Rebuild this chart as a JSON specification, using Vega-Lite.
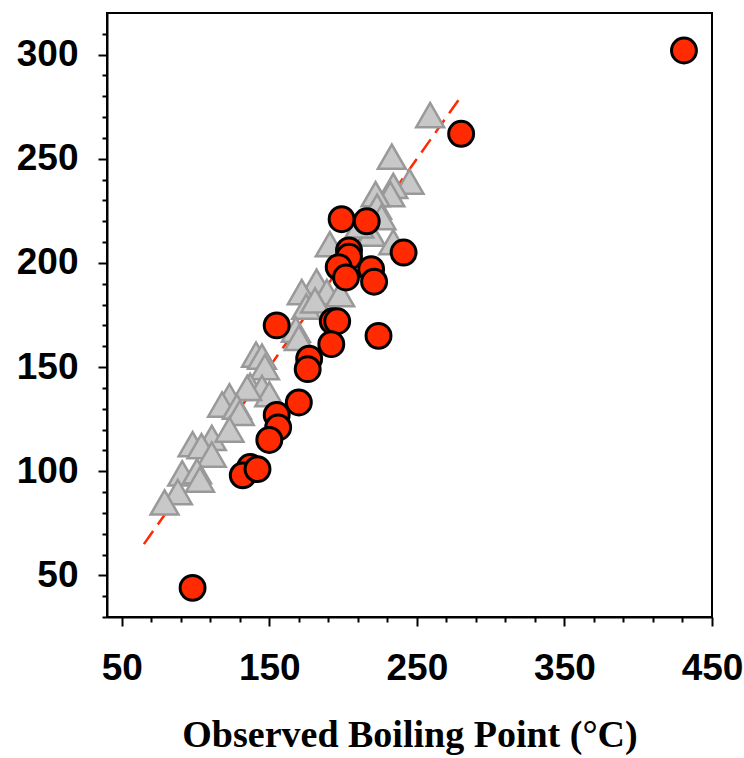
{
  "$schema": "https://vega.github.io/schema/vega-lite/v6.json",
  "width": 605,
  "height": 604,
  "autosize": {"type": "none"},
  "padding": {"left": 107, "top": 13, "right": 32, "bottom": 141},
  "background": "white",
  "config": {
    "view": {"stroke": "black", "strokeWidth": 2},
    "axis": {
      "grid": false,
      "domainColor": "black",
      "domainWidth": 2,
      "tickColor": "black",
      "tickWidth": 2,
      "labelFont": "Liberation Sans",
      "labelFontWeight": "bold",
      "labelFontSize": 37,
      "labelColor": "black"
    }
  },
  "datasets": {
    "fit": [{"observed": 65, "predicted": 65}, {"observed": 280, "predicted": 280}],
    "triangles": [
      {"observed": 259, "predicted": 271}, {"observed": 233, "predicted": 251}, {"observed": 245, "predicted": 239},
      {"observed": 234, "predicted": 237}, {"observed": 232, "predicted": 233}, {"observed": 222, "predicted": 233},
      {"observed": 223, "predicted": 227}, {"observed": 226, "predicted": 222}, {"observed": 219, "predicted": 214},
      {"observed": 211, "predicted": 218}, {"observed": 234, "predicted": 210}, {"observed": 191, "predicted": 209},
      {"observed": 182, "predicted": 191}, {"observed": 172, "predicted": 186}, {"observed": 189, "predicted": 186},
      {"observed": 198, "predicted": 185}, {"observed": 175, "predicted": 179}, {"observed": 181, "predicted": 182},
      {"observed": 168, "predicted": 168}, {"observed": 170, "predicted": 164}, {"observed": 141, "predicted": 156},
      {"observed": 145, "predicted": 155}, {"observed": 147, "predicted": 150}, {"observed": 137, "predicted": 141},
      {"observed": 145, "predicted": 140}, {"observed": 150, "predicted": 137}, {"observed": 135, "predicted": 140},
      {"observed": 123, "predicted": 136}, {"observed": 118, "predicted": 132}, {"observed": 128, "predicted": 131},
      {"observed": 130, "predicted": 128}, {"observed": 111, "predicted": 116}, {"observed": 123, "predicted": 120},
      {"observed": 98, "predicted": 113}, {"observed": 104, "predicted": 112}, {"observed": 111, "predicted": 108},
      {"observed": 91, "predicted": 99}, {"observed": 101, "predicted": 100}, {"observed": 103, "predicted": 96},
      {"observed": 88, "predicted": 90}, {"observed": 79, "predicted": 85}
    ],
    "circles": [
      {"observed": 431, "predicted": 302}, {"observed": 280, "predicted": 262}, {"observed": 199, "predicted": 221},
      {"observed": 216, "predicted": 220}, {"observed": 241, "predicted": 205}, {"observed": 204, "predicted": 206},
      {"observed": 204, "predicted": 203}, {"observed": 197, "predicted": 198}, {"observed": 202, "predicted": 193},
      {"observed": 219, "predicted": 197}, {"observed": 221, "predicted": 191}, {"observed": 193, "predicted": 172},
      {"observed": 196, "predicted": 172}, {"observed": 192, "predicted": 161}, {"observed": 224, "predicted": 165},
      {"observed": 155, "predicted": 170}, {"observed": 177, "predicted": 154}, {"observed": 176, "predicted": 149},
      {"observed": 170, "predicted": 133}, {"observed": 155, "predicted": 127}, {"observed": 156, "predicted": 121},
      {"observed": 150, "predicted": 115}, {"observed": 137, "predicted": 102}, {"observed": 132, "predicted": 98},
      {"observed": 142, "predicted": 101}, {"observed": 98, "predicted": 44}
    ]
  },
  "encoding": {
    "x": {
      "field": "observed", "type": "quantitative",
      "scale": {"domain": [40, 450], "nice": false, "zero": false},
      "axis": {
        "title": "Observed Boiling Point (°C)",
        "titleFont": "Liberation Serif",
        "titleFontWeight": "bold",
        "titleFontSize": 38,
        "titleColor": "black",
        "titlePadding": 30,
        "values": [50, 70, 90, 110, 130, 150, 170, 190, 210, 230, 250, 270, 290, 310, 330, 350, 370, 390, 410, 430, 450],
        "labelExpr": "(datum.value - 50) % 100 === 0 ? datum.label : ''",
        "tickSize": {"condition": {"test": "(datum.value - 50) % 100 === 0", "value": 9}, "value": 5},
        "labelPadding": 24,
        "labelFlush": false,
        "labelOverlap": false
      }
    },
    "y": {
      "field": "predicted", "type": "quantitative",
      "scale": {"domain": [30, 320], "nice": false, "zero": false},
      "axis": {
        "title": null,
        "values": [30, 40, 50, 60, 70, 80, 90, 100, 110, 120, 130, 140, 150, 160, 170, 180, 190, 200, 210, 220, 230, 240, 250, 260, 270, 280, 290, 300, 310],
        "labelExpr": "datum.value % 50 === 0 ? datum.label : ''",
        "tickSize": {"condition": {"test": "datum.value % 50 === 0", "value": 9}, "value": 5},
        "labelPadding": 20,
        "labelFlush": false,
        "labelOverlap": false
      }
    }
  },
  "layer": [
    {
      "data": {"name": "fit"},
      "mark": {"type": "line", "color": "#ff2a00", "strokeWidth": 2.5, "strokeDash": [16, 8]}
    },
    {
      "data": {"name": "triangles"},
      "mark": {"type": "point", "shape": "triangle-up", "filled": true, "fill": "#c8c8c8", "stroke": "#999999", "strokeWidth": 2.5, "size": 780, "opacity": 1}
    },
    {
      "data": {"name": "circles"},
      "mark": {"type": "point", "shape": "circle", "filled": true, "fill": "#ff2a00", "stroke": "black", "strokeWidth": 3, "size": 620, "opacity": 1}
    }
  ]
}
